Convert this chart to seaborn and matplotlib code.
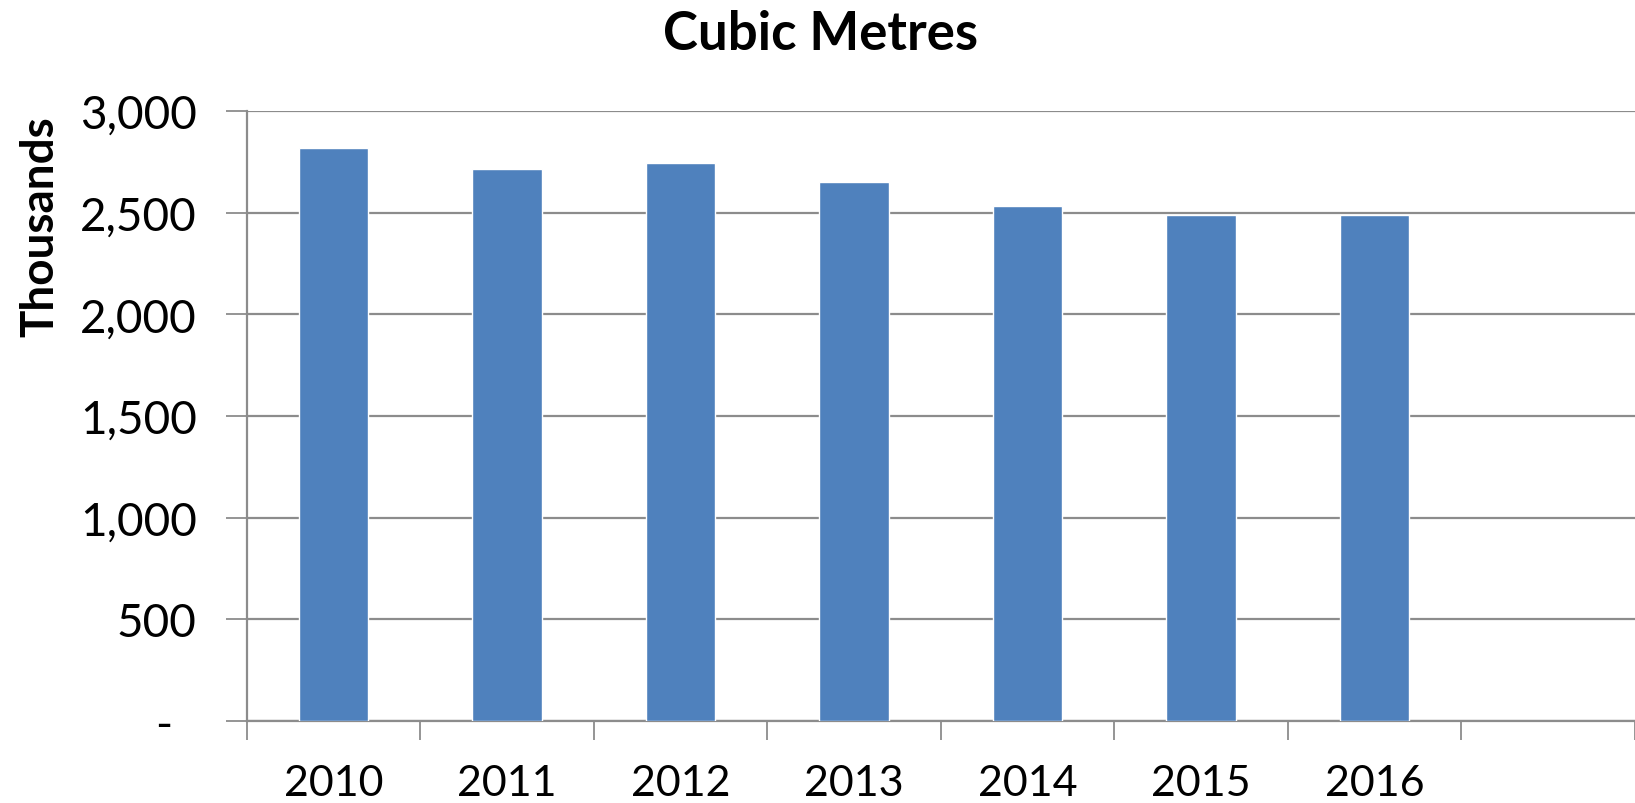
import matplotlib
matplotlib.use("Agg")
import matplotlib.pyplot as plt
import matplotlib.ticker as mticker
import seaborn as sns
import numpy as np

years = ["2010", "2011", "2012", "2013", "2014", "2015", "2016"]
values = [2819, 2716, 2742, 2650, 2534, 2490, 2490]
yticks = [0, 500, 1000, 1500, 2000, 2500, 3000]

sns.set_style("white")
plt.rcParams['font.family'] = ['Lato', 'DejaVu Sans']
plt.rcParams['text.color'] = 'black'
plt.rcParams['xtick.color'] = 'black'
plt.rcParams['ytick.color'] = 'black'

fig = plt.figure(figsize=(16.35, 8.04), dpi=100)
ax = fig.add_axes([0.1509, 0.102, 0.8491, 0.7587])

sns.barplot(x=years, y=values, color="#4F81BD", width=0.4, saturation=1, ax=ax, zorder=3)

ax.set_xlim(-0.5, 7.5)
ax.set_ylim(0, 3000)
ax.set_yticks(yticks)
ax.yaxis.set_major_formatter(mticker.FuncFormatter(lambda v, p: "-  " if v == 0 else f"{v:,.0f}"))
ax.yaxis.grid(True, color="#8C8C8C", linewidth=1.6, zorder=0)
ax.set_axisbelow(True)

# category boundaries as major ticks, labels at centres as minor ticks
ax.set_xticks(np.arange(-0.5, 8.0, 1.0))
ax.set_xticklabels([])
ax.set_xticks(np.arange(len(years)), minor=True)
ax.set_xticklabels(years, minor=True)
ax.tick_params(axis="x", which="major", direction="out", length=14, width=1.3, color="#8C8C8C", bottom=True)
ax.tick_params(axis="x", which="minor", length=0, pad=31, labelsize=31, labelcolor="black")
ax.tick_params(axis="y", direction="out", length=15, width=1.3, color="#8C8C8C", pad=21, labelsize=33,
               left=True, labelcolor="black")

for s in ["top", "right"]:
    ax.spines[s].set_visible(False)
for s in ["left", "bottom"]:
    ax.spines[s].set_color("#8C8C8C")
    ax.spines[s].set_linewidth(1.6)

ax.set_xlabel("")
ax.set_ylabel("")
fig.text(0.0245, 0.718, "Thousands", rotation=90, ha="center", va="center",
         fontsize=33, fontweight="bold", color="black")
fig.text(0.502, 0.957, "Cubic Metres", ha="center", va="center",
         fontsize=38, fontweight="bold", color="black")

fig.savefig("out.png", dpi=100)
